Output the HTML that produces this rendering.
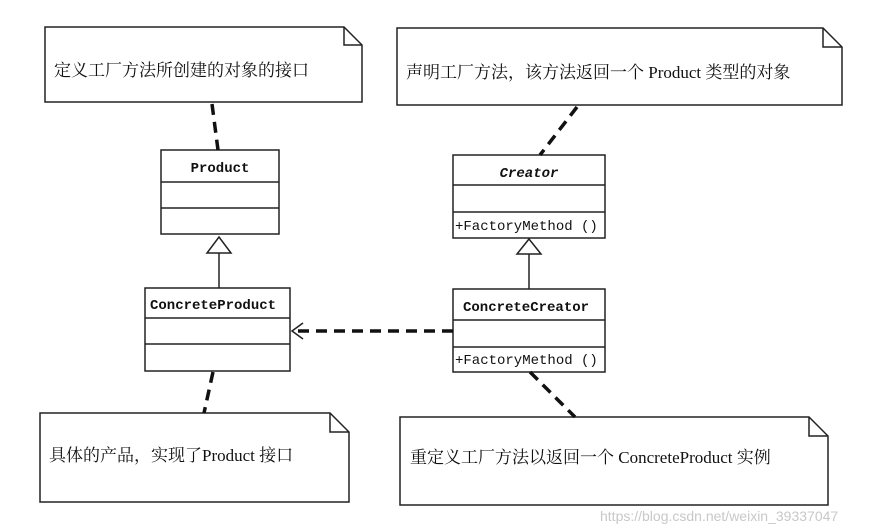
<!DOCTYPE html>
<html><head><meta charset="utf-8"><style>
html,body{margin:0;padding:0;background:#fff;}
svg{display:block;}
text{font-family:"Liberation Mono","Noto Sans CJK SC",monospace;fill:#111;}
.cn{font-family:"Liberation Serif","Noto Serif CJK SC",serif;font-size:17px;}
</style></head><body>
<svg width="880" height="532" viewBox="0 0 880 532" xmlns="http://www.w3.org/2000/svg">
<g fill="#fff" stroke="#222" stroke-width="1.5">
<path d="M45 27 H344 L362 45 V102 H45 Z"/><path d="M344 27 V45 H362" fill="none"/>
<path d="M397 28 H823 L842 47 V105 H397 Z"/><path d="M823 28 V47 H842" fill="none"/>
<path d="M40 413 H330 L349 432 V502 H40 Z"/><path d="M330 413 V432 H349" fill="none"/>
<path d="M400 417 H809 L828 436 V505 H400 Z"/><path d="M809 417 V436 H828" fill="none"/>
<rect x="161" y="150" width="118" height="84"/><line x1="161" y1="182" x2="279" y2="182"/><line x1="161" y1="208" x2="279" y2="208"/>
<rect x="145" y="288" width="145" height="83"/><line x1="145" y1="318" x2="290" y2="318"/><line x1="145" y1="344" x2="290" y2="344"/>
<rect x="453" y="155" width="152" height="83"/><line x1="453" y1="185" x2="605" y2="185"/><line x1="453" y1="212" x2="605" y2="212"/>
<rect x="453" y="289" width="152" height="83"/><line x1="453" y1="320" x2="605" y2="320"/><line x1="453" y1="347" x2="605" y2="347"/>
<line x1="219" y1="253" x2="219" y2="288"/><path d="M219 237 L231 253 H207 Z"/>
<line x1="529" y1="254" x2="529" y2="289"/><path d="M529 239 L541 254 H517 Z"/>
</g>
<g stroke="#111" stroke-width="3.5" stroke-dasharray="11,7" fill="none">
<line x1="212" y1="104" x2="218" y2="150"/>
<line x1="577" y1="107" x2="540" y2="155"/>
<line x1="213" y1="372" x2="204" y2="413"/>
<line x1="530" y1="372" x2="575" y2="417"/>
<line x1="453" y1="331" x2="296" y2="331"/>
</g>
<path d="M303 323 L292 331 L303 339" fill="none" stroke="#222" stroke-width="1.5"/>
<g font-size="14">
<text x="220" y="172" text-anchor="middle" font-weight="bold">Product</text>
<text x="150" y="309" font-weight="bold">ConcreteProduct</text>
<text x="529" y="177" text-anchor="middle" font-weight="bold" font-style="italic">Creator</text>
<text x="455" y="230">+FactoryMethod ()</text>
<text x="463" y="311" font-weight="bold">ConcreteCreator</text>
<text x="455" y="364">+FactoryMethod ()</text>
</g>
<text class="cn" x="54" y="76">定义工厂方法所创建的对象的接口</text>
<text class="cn" x="406" y="78">声明工厂方法，该方法返回一个 Product 类型的对象</text>
<text class="cn" x="49" y="461">具体的产品，实现了Product 接口</text>
<text class="cn" x="410" y="463">重定义工厂方法以返回一个 ConcreteProduct 实例</text>
<text x="600" y="521" style="font-family:'Liberation Sans',sans-serif;font-size:14px;fill:#c8c8c8">https://blog.csdn.net/weixin_39337047</text>
</svg>
</body></html>
